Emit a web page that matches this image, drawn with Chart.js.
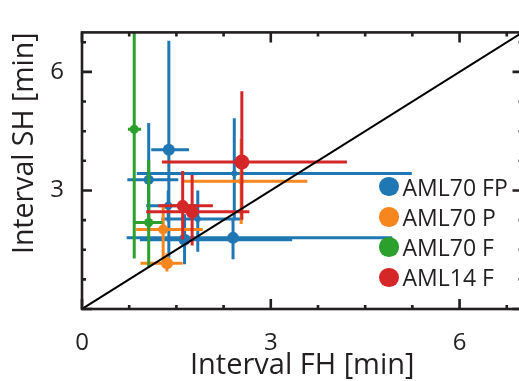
<!DOCTYPE html>
<html>
<head>
<meta charset="utf-8">
<script src="https://cdn.jsdelivr.net/npm/chart.js@4/dist/chart.umd.min.js"></script>
<style>
  html, body { margin: 0; padding: 0; background: #fff; overflow: hidden; width: 519px; height: 381px; }
  #wrap { position: relative; width: 530px; height: 381px; }
  canvas { position: absolute; left: 0; top: 0; }
  #legend { position: absolute; left: 379px; top: 171.6px; font-family: 'Open Sans', sans-serif; font-size: 23px; color: #231f20; }
  .row { display: flex; align-items: center; height: 30.2px; white-space: nowrap; }
  .dot { width: 19.5px; height: 19.5px; border-radius: 50%; margin-right: 4px; flex: none; }
</style>
</head>
<body>
<div id="wrap">
  <canvas id="c" width="530" height="381"></canvas>
  <div id="legend"></div>
</div>
<script>
// Interval FH vs interval SH per cell, with ranges on both axes.

// AML70 FP
const fpX     = [1.06, 1.38, 1.37, 1.63, 2.40, 2.42, 1.84];
const fpY     = [3.27, 4.03, 2.61, 1.75, 1.80, 3.43, 2.28];
const fpXLow  = [0.72, 1.10, 1.02, 0.92, 0.71, 0.87, 1.26];
const fpXHigh = [1.53, 1.70, 1.85, 3.34, 4.93, 5.24, 2.55];
const fpYLow  = [2.00, 1.30, 2.20, 1.13, 1.26, 2.30, 1.45];
const fpYHigh = [4.71, 6.79, 3.00, 2.40, 2.30, 4.83, 3.00];

// AML70 P
const pX     = [2.53, 1.29, 1.35];
const pY     = [3.23, 2.01, 1.16];
const pXLow  = [1.60, 0.86, 0.93];
const pXHigh = [3.58, 1.92, 1.60];
const pYLow  = [2.15, 1.22, 0.95];
const pYHigh = [4.30, 2.65, 1.41];

// AML70 F
const fX     = [0.83, 1.06];
const fY     = [4.55, 2.19];
const fXLow  = [0.73, 0.83];
const fXHigh = [0.94, 1.28];
const fYLow  = [1.28, 1.05];
const fYHigh = [7.60, 3.77];

// AML14 F
const rX     = [2.54, 1.60, 1.75];
const rY     = [3.72, 2.61, 2.46];
const rXLow  = [1.27, 1.21, 1.02];
const rXHigh = [4.21, 2.08, 2.66];
const rYLow  = [2.26, 1.76, 1.61];
const rYHigh = [5.51, 3.49, 3.39];

const seriesLabels = ['AML70 FP', 'AML70 P', 'AML70 F', 'AML14 F'];
const axisRange = [0, 7];          // both axes
const identityLine = [0, 7];       // y = x reference
const majorStep = 3;
const minorStep = 0.75;

const ink = '#231f20';
const colors = ['#1f77b4', '#f7861f', '#2ca02c', '#d62728'];

function pts(xs, ys, xl, xh, yl, yh) {
  return xs.map((x, i) => ({ x, y: ys[i], xMin: xl[i], xMax: xh[i], yMin: yl[i], yMax: yh[i] }));
}

// Draws each dataset's ranges right before its markers.
const errorBars = {
  id: 'errorBars',
  beforeDatasetDraw(chart, args) {
    const ds = chart.data.datasets[args.index];
    if (!ds.errorBars) return;
    const { ctx, chartArea: a, scales: { x, y } } = chart;
    ctx.save();
    ctx.beginPath();
    ctx.rect(a.left, a.top, a.right - a.left, a.bottom - a.top);
    ctx.clip();
    ctx.strokeStyle = ds.backgroundColor;
    ctx.lineWidth = 3;
    ctx.lineCap = 'butt';
    ds.data.forEach(p => {
      const px = x.getPixelForValue(p.x), py = y.getPixelForValue(p.y);
      ctx.beginPath();
      ctx.moveTo(x.getPixelForValue(p.xMin), py);
      ctx.lineTo(x.getPixelForValue(p.xMax), py);
      ctx.moveTo(px, y.getPixelForValue(p.yMin));
      ctx.lineTo(px, y.getPixelForValue(p.yMax));
      ctx.stroke();
    });
    ctx.restore();
  }
};

// Box frame with inward ticks on all four sides.
const frame = {
  id: 'frame',
  afterDatasetsDraw(chart) {
    const { ctx, chartArea: { left, right, top, bottom }, scales: { x, y } } = chart;
    ctx.save();
    ctx.strokeStyle = ink;
    ctx.lineWidth = 2.6;
    ctx.strokeRect(left, top, right - left, bottom - top);
    for (let v = axisRange[0]; v <= axisRange[1] + 1e-9; v += minorStep) {
      const major = Math.abs(v / majorStep - Math.round(v / majorStep)) < 1e-9;
      const len = major ? 10 : 4;
      const px = x.getPixelForValue(v), py = y.getPixelForValue(v);
      ctx.beginPath();
      ctx.moveTo(px, bottom); ctx.lineTo(px, bottom - len);
      ctx.moveTo(px, top); ctx.lineTo(px, top + len);
      ctx.moveTo(left, py); ctx.lineTo(left + len, py);
      ctx.moveTo(right, py); ctx.lineTo(right - len, py);
      ctx.stroke();
    }
    ctx.restore();
  }
};

Chart.defaults.font.family = "'Open Sans', sans-serif";
Chart.defaults.color = ink;

const seriesData = [
  pts(fpX, fpY, fpXLow, fpXHigh, fpYLow, fpYHigh),
  pts(pX, pY, pXLow, pXHigh, pYLow, pYHigh),
  pts(fX, fY, fXLow, fXHigh, fYLow, fYHigh),
  pts(rX, rY, rXLow, rXHigh, rYLow, rYHigh)
];
const radii = [
  [5, 6, 4, 6, 6, 3, 3],
  [3, 5, 6],
  [4.5, 4.5],
  [7.5, 6, 6.5]
];

const datasets = seriesData.map((data, i) => ({
  label: seriesLabels[i],
  data,
  errorBars: true,
  backgroundColor: colors[i],
  borderWidth: 0,
  pointRadius: radii[i],
  pointHoverRadius: radii[i],
  order: 10 - i
}));
datasets.push({
  type: 'line',
  label: '',
  data: identityLine.map(v => ({ x: v, y: v })),
  borderColor: '#000',
  borderWidth: 2,
  pointRadius: 0,
  order: 0
});

const chart = new Chart(document.getElementById('c'), {
  type: 'scatter',
  data: { datasets },
  options: {
    responsive: false,
    animation: false,
    layout: { padding: { left: 0, right: 5, top: 7.5, bottom: 0 } },
    plugins: { legend: { display: false }, tooltip: { enabled: false } },
    scales: {
      x: {
        type: 'linear', min: axisRange[0], max: axisRange[1],
        grid: { display: false, drawTicks: false }, border: { display: false },
        ticks: { stepSize: majorStep, includeBounds: false, padding: 20, font: { size: 24 } },
        title: { display: true, text: 'Interval FH [min]', font: { size: 29, lineHeight: 1 }, padding: { top: 0, bottom: 1 } },
        afterFit(s) { s.height = 72; }
      },
      y: {
        type: 'linear', min: axisRange[0], max: axisRange[1],
        grid: { display: false, drawTicks: false }, border: { display: false },
        ticks: { stepSize: majorStep, includeBounds: false, padding: 18, font: { size: 24 },
                 callback: v => (v === 0 ? '' : v) },
        title: { display: true, text: 'Interval SH [min]', align: 'end', font: { size: 28.5, lineHeight: 1 }, padding: { top: 11, bottom: 0 } },
        afterFit(s) { s.width = 82; }
      }
    }
  },
  plugins: [errorBars, frame]
});

// Legend built from the datasets
const legend = document.getElementById('legend');
chart.data.datasets.filter(d => d.label).forEach(d => {
  const row = document.createElement('div');
  row.className = 'row';
  const dot = document.createElement('span');
  dot.className = 'dot';
  dot.style.background = d.backgroundColor;
  const txt = document.createElement('span');
  txt.textContent = d.label;
  row.appendChild(dot);
  row.appendChild(txt);
  legend.appendChild(row);
});
</script>
</body>
</html>
